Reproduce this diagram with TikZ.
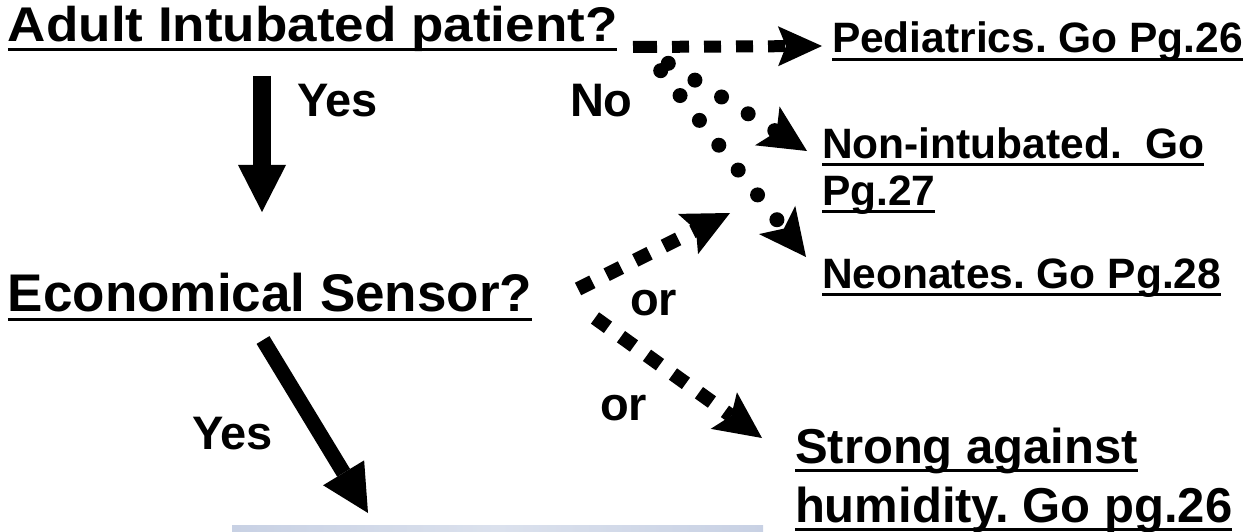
\documentclass[tikz,border=0pt]{standalone}
\usepackage{fontspec}
\setmainfont{Liberation Sans}
\usetikzlibrary{arrows.meta,positioning}
\frenchspacing
\newcommand{\uln}[1]{\setbox0\hbox{#1}\rlap{\rule[-0.185em]{\wd0}{0.065em}}\box0}
\definecolor{boxblue}{RGB}{200,209,228}
\definecolor{boxlight}{RGB}{219,225,237}
\tikzset{
	qst/.style={anchor=base west,inner sep=0pt,outer sep=0pt,font=\bfseries\fontsize{53}{60}\selectfont},
	dest/.style={anchor=base west,inner sep=0pt,outer sep=0pt,font=\bfseries\fontsize{42.5}{47}\selectfont},
	lbl/.style={anchor=base west,inner sep=0pt,outer sep=0pt,font=\bfseries\fontsize{47}{52}\selectfont},
	bigarrow/.style={line width=#1,-{Triangle[length=47pt,width=48pt,line width=0pt]}},
	dotarrow/.style={line width=15pt,line cap=round,dash pattern=on 0pt off 31.5pt,-{Stealth[length=47pt,width=46pt,inset=11pt,line width=0pt]}},
	dasharrow/.style={line width=14pt,dash pattern=on 16pt off 16pt,-{Stealth[length=47pt,width=45pt,inset=9pt,line width=0pt]}}
}
\begin{document}
\begin{tikzpicture}[x=1pt,y=-1pt]
	\useasboundingbox (0,0) rectangle (1253,532);
	\node[qst] (adult) at (8,42){\scalebox{1}[0.92]{\uln{Adult Intubated patient?}}};
	\node[qst] (econ) at (8,311.5){\uln{Economical Sensor?}};
	\node[dest] (pedi) at (832,53){\uln{Pediatrics. Go Pg.26}};
	\node[dest] (nonint) at (822,158){\uln{Non-intubated.\ \ Go}};
	\node[dest] (nonintb) at (822,205){\uln{Pg.27}};
	\node[dest] (neo) at (822,288){\uln{Neonates. Go Pg.28}};
	\node[dest,font=\bfseries\fontsize{49}{59}\selectfont] (strong) at (795,463){\uln{Strong against}};
	\node[dest,font=\bfseries\fontsize{49}{59}\selectfont] (humid) at (795,522){\uln{humidity. Go pg.26}};
	\node[lbl] (yes1) at (297,117){Yes};
	\node[lbl] (no) at (570,117){No};
	\node[lbl] (yes2) at (192,449){Yes};
	\node[lbl] (or1) at (630,315){or};
	\node[lbl] (or2) at (600,420){or};
	% cut-off box at the bottom
	\shade[left color=boxblue,right color=boxblue,middle color=boxlight] (232,525) rectangle (763,540);
	\coordinate (y1s) at (262,76);
	\coordinate (y1e) at (262,212);
	\coordinate (y2s) at (263,340);
	\coordinate (y2e) at (368,513);
	\coordinate (nos) at (633,47);
	\coordinate (noe) at (822,46);
	\coordinate (dAs) at (668.3,63.3);
	\coordinate (dAe) at (807,151);
	\coordinate (dBs) at (660.7,70.7);
	\coordinate (dBe) at (806,257);
	\coordinate (o1s) at (578,289);
	\coordinate (o1e) at (730,213);
	\coordinate (o2s) at (595,318);
	\coordinate (o2e) at (762,438);
	\draw[bigarrow=18pt] (y1s)--(y1e);
	\draw[bigarrow=15pt] (y2s)--(y2e);
	\draw[line width=12pt,dash pattern=on 24pt off 15pt on 17pt off 15pt on 17pt off 15pt on 17pt off 15pt on 17pt off 15pt,-{Stealth[length=44pt,width=40pt,inset=8pt,line width=0pt]}] (nos)--(noe);
	\draw[dotarrow] (dAs)--(dAe);
	\draw[dotarrow] (dBs)--(dBe);
	\draw[dasharrow] (o1s)--(o1e);
	\draw[dasharrow] (o2s)--(o2e);
\end{tikzpicture}
\end{document}
